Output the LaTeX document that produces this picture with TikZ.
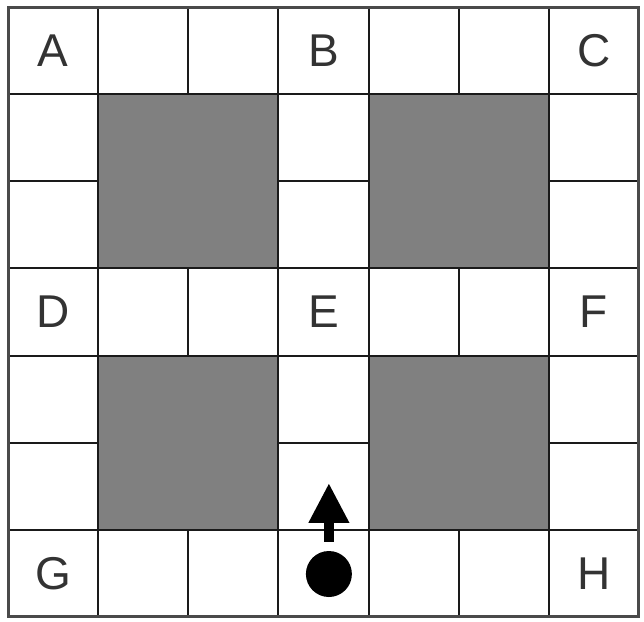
\documentclass[tikz,border=0pt]{standalone}
\usepackage{fontspec}
\setsansfont{Liberation Sans}
\usetikzlibrary{arrows.meta}
\definecolor{mur}{HTML}{808080}
\definecolor{trait}{HTML}{1A1A1A}
\definecolor{bordure}{HTML}{4A4A4A}
\definecolor{lettre}{HTML}{333333}
\tikzset{
  grille/.style={line width=2pt, draw=trait},
  mursbloc/.style={grille, fill=mur},
  bord/.style={line width=3pt, draw=bordure},
  repere/.style={font=\sffamily\fontsize{46}{46}\selectfont, text=lettre, inner sep=0pt},
  robotpion/.style={circle, fill=black, minimum size=46pt, inner sep=0pt},
  fleche/.style={-{Triangle[width=38pt, length=40pt]}, line width=10pt, draw=black}
}

\begin{document}
\begin{tikzpicture}[x=90.14pt, y=-87.14pt]
  \useasboundingbox (-0.0888,-0.0803) rectangle (7.0558,7.0574);
  \fill[white] (-0.0888,-0.0803) rectangle (7.0558,7.0574);

  % quadrillage
  \foreach \k in {1,...,6} {
    \draw[grille] (\k,0) -- (\k,7);
    \draw[grille] (0,\k) -- (7,\k);
  }

  % blocs gris
  \foreach \i/\j in {1/1, 4/1, 1/4, 4/4} { \filldraw[mursbloc] (\i,\j) rectangle ++(2,2); }

  \draw[bord] (0,0) rectangle (7,7);

  % carrefours
  \foreach \nom/\i/\j in {A/0/0, B/3/0, C/6/0, D/0/3, E/3/3, F/6/3, G/0/6, H/6/6} {
    \node[repere] (\nom) at (\i+0.5,\j+0.5) {\nom};
  }

  % robot
  \node[robotpion] (robot) at (3.56,6.507) {};
  \coordinate (pointe) at (3.56,5.462);
  \draw[fleche] ([yshift=9pt]robot.north) -- (pointe);
\end{tikzpicture}
\end{document}
